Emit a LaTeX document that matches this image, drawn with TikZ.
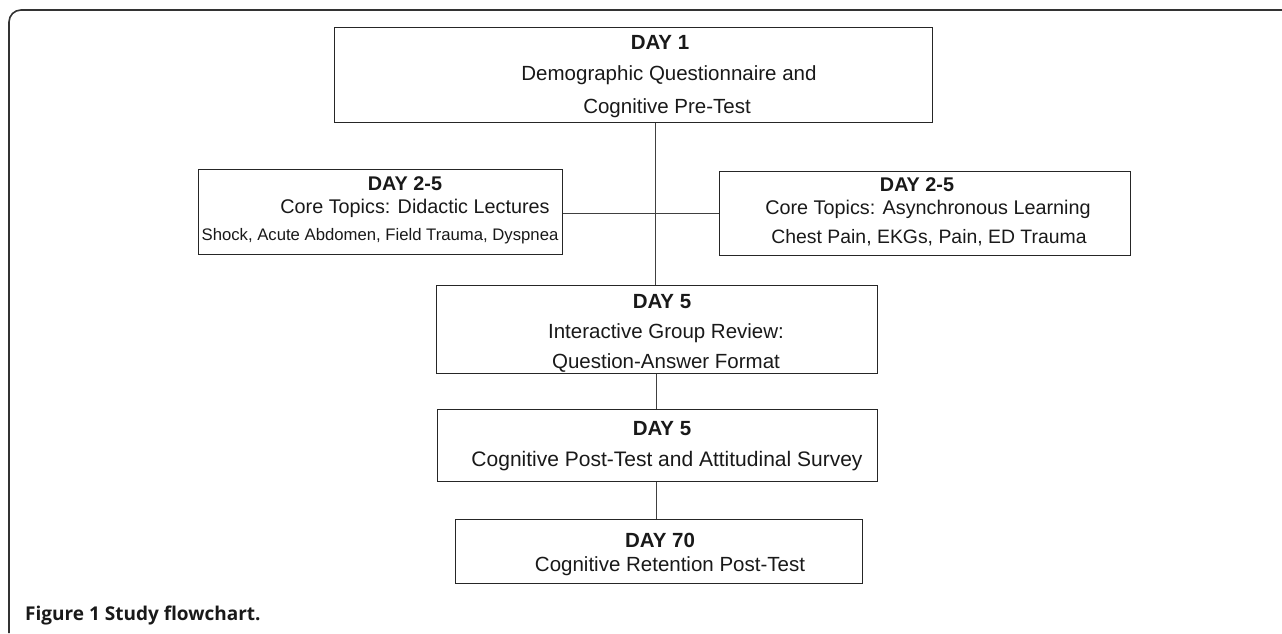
\documentclass[tikz,border=0pt]{standalone}
\usepackage{fontspec}
\setmainfont{Liberation Sans}
\newfontfamily\capfont{Open Sans}
\begin{document}
\begin{tikzpicture}[x=1pt,y=-1pt,
  box/.style={draw=black!85,line width=1pt,rectangle,inner sep=0pt},
  txt/.style={inner sep=0pt,text=black!90,anchor=center},
  big/.style={font=\fontsize{20.5}{24}\selectfont},
  mid/.style={font=\fontsize{19.8}{23}\selectfont},
  small/.style={font=\fontsize{16.7}{20}\selectfont},
  link/.style={draw=black!75,line width=1pt}]
\useasboundingbox (0,0) rectangle (1282,633);
% outer frame
\draw[black!80,line width=1.6pt] (9,633) -- (9,22) arc[start angle=180,end angle=270,radius=12] -- (1282,10);
% boxes
\node[box,minimum width=598,minimum height=95] (b1) at (633,74.5) {};
\node[box,minimum width=364,minimum height=85] (bl) at (380,211.5) {};
\node[box,minimum width=411,minimum height=84] (br) at (924.5,213) {};
\node[box,minimum width=441,minimum height=88] (b5) at (656.5,329) {};
\node[box,minimum width=440,minimum height=72] (b6) at (657,445) {};
\node[box,minimum width=407,minimum height=64] (b7) at (658.5,551) {};
% texts
\node[txt,big] (t1a) at (660,42) {\bfseries DAY 1};
\node[txt,big] (t1b) at (669,75) {Demographic Questionnaire and};
\node[txt,big] (t1c) at (667,108) {Cognitive Pre-Test};
\node[txt,mid] (tla) at (405,184) {\bfseries DAY 2-5};
\node[txt,mid] (tlb) at (415,208) {Core Topics: Didactic Lectures};
\node[txt,small] (tlc) at (380,236) {Shock, Acute Abdomen, Field Trauma, Dyspnea};
\node[txt,mid] (tra) at (917,185) {\bfseries DAY 2-5};
\node[txt,mid] (trb) at (928,209) {Core Topics: Asynchronous Learning};
\node[txt,font=\fontsize{19.4}{23}\selectfont] (trc) at (929,238) {Chest Pain, EKGs, Pain, ED Trauma};
\node[txt,big] (t5a) at (662,302) {\bfseries DAY 5};
\node[txt,big] (t5b) at (666,333) {Interactive Group Review:};
\node[txt,big] (t5c) at (666,363) {Question-Answer Format};
\node[txt,big] (t6a) at (662,429) {\bfseries DAY 5};
\node[txt,font=\fontsize{21}{24}\selectfont] (t6b) at (667,461) {Cognitive Post-Test and Attitudinal Survey};
\node[txt,big] (t7a) at (660,540) {\bfseries DAY 70};
\node[txt,big] (t7b) at (670,566) {Cognitive Retention Post-Test};
% caption
\node[inner sep=0pt,anchor=base west,text=black!90,font=\capfont\bfseries\fontsize{19}{22}\selectfont] (cap) at (25,620) {Figure 1 Study flowchart.};
% connectors
\draw[link] (655,0 |- b1.south) -- (655,0 |- b5.north);
\draw[link] (bl.east |- 0,213) -- (br.west |- 0,213);
\draw[link] (656,0 |- b5.south) -- (656,0 |- b6.north);
\draw[link] (656,0 |- b6.south) -- (656,0 |- b7.north);
\end{tikzpicture}
\end{document}
